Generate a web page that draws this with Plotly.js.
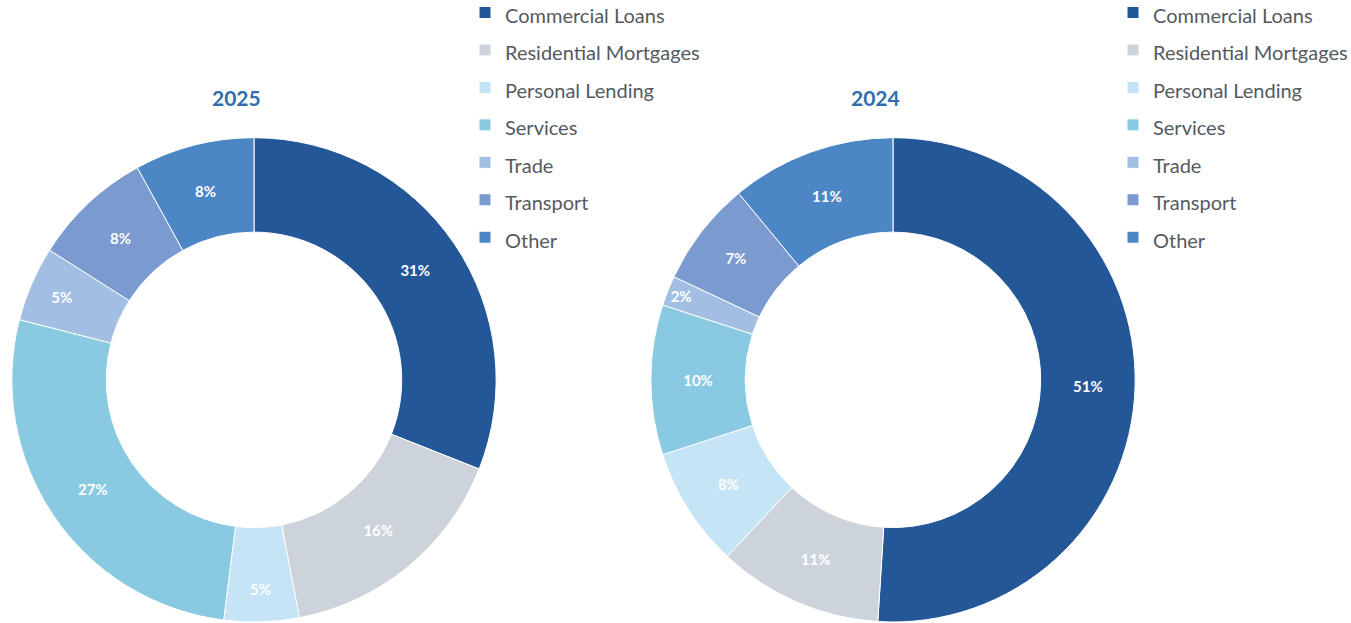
<!DOCTYPE html>
<html>
<head>
<meta charset="utf-8">
<script src="https://cdn.plot.ly/plotly-3.0.1.min.js"></script>
<style>html,body{margin:0;padding:0;background:#fff;}#chart{width:1351px;height:623px;}</style>
</head>
<body>
<div id="chart"></div>
<script>
const categories = ["Commercial Loans", "Residential Mortgages", "Personal Lending", "Services", "Trade", "Transport", "Other"];
const values2025 = [31, 16, 5, 27, 5, 8, 8];
const values2024 = [51, 11, 8, 10, 2, 7, 11];
const colors = ["#245797", "#ccd3da", "#c5e4f6", "#89c9e1", "#a2bee3", "#7a9ad0", "#4d86c5"];
const titles = ["2025", "2024"];

const FONT = "Lato, 'Open Sans', sans-serif";
// distinct label markup per chart so each legend lists its own entries
const labels2025 = categories.map(c => '<span style="font-size:20px">' + c + '</span>');
const labels2024 = categories.map(c => '<span style="font-size:20px;">' + c + '</span>');

function pieTrace(lbls, vals, domainX, legendId) {
  return {
    type: "pie",
    labels: lbls,
    values: vals,
    sort: false,
    direction: "clockwise",
    rotation: 0,
    hole: 0.61,
    marker: {colors: colors, line: {color: "#ffffff", width: 1}},
    texttemplate: "%{value}%",
    textposition: "inside",
    insidetextorientation: "horizontal",
    textfont: {color: "#ffffff", size: 15, family: FONT, weight: "bold"},
    domain: {x: domainX, y: [0.0016, 0.779]},
    legend: legendId,
    showlegend: true,
    hoverinfo: "label+percent"
  };
}

const data = [
  pieTrace(labels2025, values2025, [11/1351, 497/1351], "legend"),
  pieTrace(labels2024, values2024, [650/1351, 1136/1351], "legend2")
];

const legendBase = {
  font: {family: FONT, size: 26.5, color: "#555a60"},
  bgcolor: "rgba(0,0,0,0)",
  borderwidth: 0,
  yanchor: "top",
  xanchor: "left",
  y: 1.018,
  itemclick: false,
  itemdoubleclick: false
};

const layout = {
  width: 1351,
  height: 623,
  margin: {l: 0, r: 0, t: 0, b: 0, autoexpand: false},
  paper_bgcolor: "#ffffff",
  plot_bgcolor: "#ffffff",
  font: {family: FONT},
  legend: Object.assign({}, legendBase, {x: 465/1351}),
  legend2: Object.assign({}, legendBase, {x: 1113/1351}),
  annotations: [
    {text: titles[0], x: 236/1351, y: 1 - 98/623, xref: "paper", yref: "paper", showarrow: false,
     xanchor: "center", yanchor: "middle",
     font: {family: FONT, size: 21, color: "#2f6eae", weight: "bold"}},
    {text: titles[1], x: 875/1351, y: 1 - 98/623, xref: "paper", yref: "paper", showarrow: false,
     xanchor: "center", yanchor: "middle",
     font: {family: FONT, size: 21, color: "#2f6eae", weight: "bold"}}
  ]
};

Plotly.newPlot("chart", data, layout, {displayModeBar: false, staticPlot: true});
</script>
</body>
</html>
